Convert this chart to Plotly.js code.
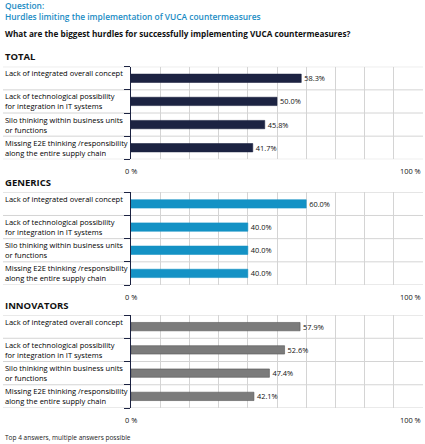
<!DOCTYPE html>
<html><head><meta charset="utf-8">
<script src="https://cdn.plot.ly/plotly-3.0.1.min.js"></script>
<style>html,body{margin:0;padding:0;background:#fff}#c{width:425px;height:444px}</style>
</head><body><div id="c"></div>
<script>
const categories = [
  "Lack of integrated overall concept",
  "Lack of technological possibility<br>for integration in IT systems",
  "Silo thinking within business units<br>or functions",
  "Missing E2E thinking /responsibility<br>along the entire supply chain"
];
const groups = ["TOTAL", "GENERICS", "INNOVATORS"];
const totalValues = [58.3, 50.0, 45.8, 41.7];
const genericsValues = [60.0, 40.0, 40.0, 40.0];
const innovatorsValues = [57.9, 52.6, 47.4, 42.1];
const xTickLabels = ["0 %", "100 %"];
const questionLabel = "Question:";
const questionTitle = "Hurdles limiting the implementation of VUCA countermeasures";
const subTitle = "What are the biggest hurdles for successfully implementing VUCA countermeasures?";
const footnote = "Top 4 answers, multiple answers possible";

const seriesValues = [totalValues, genericsValues, innovatorsValues];
const colors = ["#1c2342", "#1492c5", "#7b7b7b"];
const lineColors = ["#1c2342", "#1492c5", "#555555"];
const H = 444, W = 425;
const FONT = "Open Sans, sans-serif";
const panels = [[66.7, 159.3], [192.3, 285], [315, 408]];
const xDom = [131 / W, 423 / W];
const navy = "#1c2342";
const grid = "#d4d4d4";

const traces = [], shapes = [], annotations = [];
const layout = {
  width: W, height: H, margin: {l: 0, r: 0, t: 0, b: 0},
  paper_bgcolor: "#fff", plot_bgcolor: "#fff", showlegend: false,
  font: {family: FONT, color: "#222"}
};
const yIdx = categories.map((c, i) => i);

seriesValues.forEach((vals, g) => {
  const s = g === 0 ? "" : String(g + 1);
  traces.push({
    type: "bar", orientation: "h", x: vals, y: yIdx,
    xaxis: "x" + s, yaxis: "y" + s,
    marker: {color: colors[g], line: {color: lineColors[g], width: 0.6}},
    text: vals.map(v => v.toFixed(1) + "%"), textposition: "outside",
    constraintext: "none",
    textfont: {size: 7.4, color: "#111", family: FONT},
    cliponaxis: false, hoverinfo: "skip", width: 0.36
  });
  const [top, bot] = panels[g];
  layout["xaxis" + s] = {
    domain: xDom, range: [0, 100], anchor: "y" + s,
    tickvals: [0,10,20,30,40,50,60,70,80,90,100], showticklabels: false,
    showgrid: true, gridcolor: grid, gridwidth: 1, zeroline: false,
    showline: false, ticks: "", fixedrange: true
  };
  layout["yaxis" + s] = {
    domain: [1 - bot / H, 1 - top / H], range: [3.5, -0.5], anchor: "x" + s,
    tickvals: [-0.5, 0.5, 1.5, 2.5, 3.5], showticklabels: false,
    ticks: "outside", ticklen: 6, tickcolor: navy, tickwidth: 1,
    showgrid: false, zeroline: false, showline: true, linecolor: navy, linewidth: 1.5,
    fixedrange: true
  };
  [-0.5, 0.5, 1.5, 2.5, 3.5].forEach(yv => {
    shapes.push({type: "line", xref: "paper", yref: "y" + s, x0: 3 / W, x1: xDom[1],
      y0: yv, y1: yv, line: {color: grid, width: 1}, layer: "below"});
  });
  annotations.push({xref: "paper", yref: "paper", x: 3 / W, y: 1 - (top - 10) / H,
    xanchor: "left", yanchor: "middle", text: "<b>" + groups[g] + "</b>", showarrow: false,
    font: {size: 9.5, color: "#111", family: FONT}});
  categories.forEach((c, i) => {
    const twoLine = c.indexOf("<br>") >= 0;
    annotations.push({xref: "paper", yref: "y" + s, x: 3 / W, y: i,
      xanchor: "left", yanchor: "middle", align: "left", text: c, showarrow: false,
      yshift: twoLine ? 0 : 5, font: {size: 7.5, color: "#000", family: FONT}});
  });
  annotations.push({xref: "x" + s, yref: "y" + s + " domain", x: 0, y: 0, yshift: -12,
    xanchor: "center", yanchor: "middle", text: xTickLabels[0], showarrow: false,
    font: {size: 7.4, color: "#111", family: FONT}});
  annotations.push({xref: "x" + s, yref: "y" + s + " domain", x: 100, y: 0, yshift: -12,
    xanchor: "right", yanchor: "middle", text: xTickLabels[1], showarrow: false,
    font: {size: 7.4, color: "#111", family: FONT}});
});

annotations.push({xref: "paper", yref: "paper", x: 3 / W, y: 1 - 5.5 / H, xanchor: "left", yanchor: "middle",
  text: questionLabel, showarrow: false, font: {size: 8.4, color: "#1a8cc4", family: FONT, weight: 600}});
annotations.push({xref: "paper", yref: "paper", x: 3 / W, y: 1 - 16.5 / H, xanchor: "left", yanchor: "middle",
  text: questionTitle, showarrow: false, font: {size: 8.4, color: "#1a8cc4", family: FONT, weight: 600}});
annotations.push({xref: "paper", yref: "paper", x: 3 / W, y: 1 - 33.5 / H, xanchor: "left", yanchor: "middle",
  text: "<b>" + subTitle + "</b>", showarrow: false, font: {size: 8.2, color: "#111", family: FONT}});
annotations.push({xref: "paper", yref: "paper", x: 3 / W, y: 1 - 437 / H, xanchor: "left", yanchor: "middle",
  text: footnote, showarrow: false, font: {size: 6.5, color: "#222", family: FONT}});

layout.shapes = shapes;
layout.annotations = annotations;
Plotly.newPlot("c", traces, layout, {displayModeBar: false, staticPlot: true});
</script></body></html>
